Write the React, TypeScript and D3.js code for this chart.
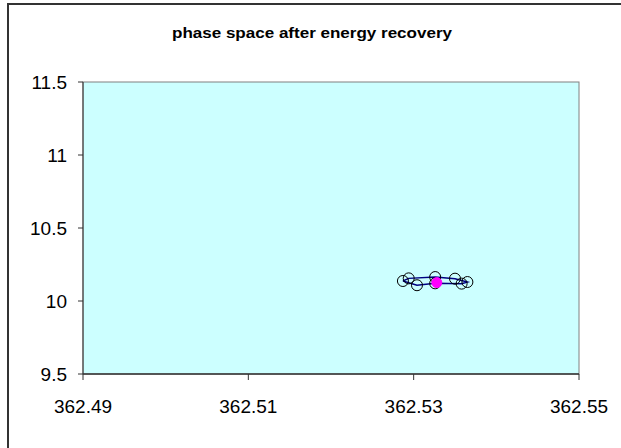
import React from "react";
import * as d3 from "d3";

const title = "phase space after energy recovery";
const xTicks = [362.49, 362.51, 362.53, 362.55];
const yTicks = [9.5, 10, 10.5, 11, 11.5];
const xDomain = [362.49, 362.55];
const yDomain = [9.5, 11.5];

// phase-space ellipse points (order of the connecting line)
const particleX = [362.5287, 362.5294, 362.5326, 362.535, 362.5365, 362.5358, 362.5326, 362.5304, 362.5287];
const particleY = [10.137, 10.155, 10.164, 10.153, 10.13, 10.119, 10.121, 10.108, 10.137];
// reference particle
const refX = [362.5328];
const refY = [10.126];

export default function App() {
  const W = 621, H = 448;
  const left = 83, right = 579, top = 82, bottom = 374;
  const x = d3.scaleLinear().domain(xDomain).range([left, right]);
  const y = d3.scaleLinear().domain(yDomain).range([bottom, top]);
  const pts = particleX.map((v, i) => [x(v), y(particleY[i])] as [number, number]);
  const line = d3.line()(pts) || "";
  const font = "'Liberation Sans', Arial, sans-serif";
  return (
    <svg width={W} height={H} style={{ position: "absolute", left: 0, top: 0, background: "#fff" }}>
      <rect x={8} y={4} width={W + 20} height={H + 20} fill="#fff" stroke="#333" strokeWidth={2} />
      <text x={312} y={38} textAnchor="middle" fontFamily={font} fontWeight="bold" fontSize={15}
        textLength={280} lengthAdjust="spacingAndGlyphs" fill="#000">
        {title}
      </text>
      <rect x={left} y={top} width={right - left} height={bottom - top} fill="#CCFFFF" stroke="#808080" strokeWidth={1} />
      <line x1={left} x2={left} y1={top} y2={bottom} stroke="#333" strokeWidth={1} />
      <line x1={left} x2={right} y1={bottom} y2={bottom} stroke="#333" strokeWidth={1.5} />
      {yTicks.map((t) => (
        <g key={"y" + t}>
          <line x1={left - 5} x2={left} y1={y(t)} y2={y(t)} stroke="#333" />
          <text x={left - 16} y={y(t) + 7} textAnchor="end" fontFamily={font} fontSize={19} fill="#000">
            {t}
          </text>
        </g>
      ))}
      {xTicks.map((t) => (
        <g key={"x" + t}>
          <line x1={x(t)} x2={x(t)} y1={bottom} y2={bottom + 6} stroke="#333" />
          <text x={x(t)} y={bottom + 39} textAnchor="middle" fontFamily={font} fontSize={19} fill="#000">
            {t}
          </text>
        </g>
      ))}
      <path d={line} fill="none" stroke="#000080" strokeWidth={1.5} />
      {pts.slice(0, -1).map((p, i) => (
        <circle key={i} cx={p[0]} cy={p[1]} r={5.5} fill="none" stroke="#000" strokeWidth={1} />
      ))}
      {refX.map((v, i) => (
        <circle key={"r" + i} cx={x(v)} cy={y(refY[i])} r={5} fill="#FF00FF" stroke="#FF00FF" />
      ))}
    </svg>
  );
}
